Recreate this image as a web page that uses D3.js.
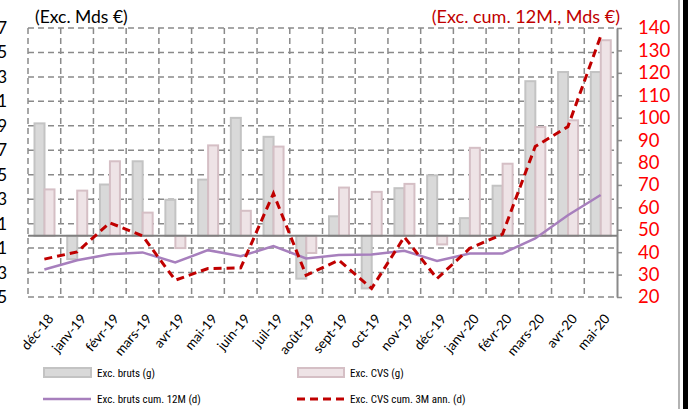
<!DOCTYPE html>
<html>
<head>
<meta charset="utf-8">
<script src="https://cdn.jsdelivr.net/npm/d3@7"></script>
<style>
  body { margin: 0; background: #fff; }
  svg { display: block; font-family: Lato, "Open Sans", sans-serif; }
</style>
</head>
<body>
<div id="chart"></div>
<script>
// data
const months = ["déc-18","janv-19","févr-19","mars-19","avr-19","mai-19","juin-19","juil-19","août-19",
  "sept-19","oct-19","nov-19","déc-19","janv-20","févr-20","mars-20","avr-20","mai-20"];
const brut = [9.2,-1.9,4.2,6.1,2.95,4.6,9.65,8.1,-3.5,1.6,-4.3,3.9,4.95,1.45,4.1,12.65,13.4,13.4];   // Exc. bruts (g)
const cvs = [3.8,3.7,6.1,1.9,-1.0,7.4,2.05,7.3,-1.4,3.95,3.6,4.25,-0.7,7.2,5.9,8.9,9.45,16.0];      // Exc. CVS (g)
const brutCum12 = [32.3,36.4,39.1,39.9,35.4,40.9,38.2,42.7,37.2,38.7,39.0,40.6,36.1,39.4,39.4,46.1,56.5,65.5]; // (d)
const cvsCum3 = [36.9,40.1,53.1,47.3,27.5,32.7,33.0,66.2,29.7,36.4,23.8,46.8,28.2,41.7,48.0,87.1,96.0,136.3];   // (d)
const leftTicks = [-5,-3,-1,1,3,5,7,9,11,13,15,17];
const rightTicks = [20,30,40,50,60,70,80,90,100,110,120,130,140];

const width = 688, height = 409;
const plotLeft = 28, plotRight = 617, plotTop = 28, plotBottom = 297;
const narrow = "'Liberation Sans Narrow', 'Roboto Condensed', Lato, sans-serif";

const svg = d3.select("#chart").append("svg")
  .attr("width", width).attr("height", height);

const x = d3.scaleBand().domain(months).range([plotLeft, plotRight]);
const yL = d3.scaleLinear().domain([-5, 17]).range([plotBottom, plotTop]);
const yR = d3.scaleLinear().domain([20, 140]).range([plotBottom, plotTop]);

const gridColor = "#8a8a8a";

// horizontal dashed grid (left axis)
svg.append("g").selectAll("line").data(leftTicks).join("line")
  .attr("x1", plotLeft).attr("x2", plotRight)
  .attr("y1", d => yL(d)).attr("y2", d => yL(d))
  .attr("stroke", gridColor).attr("stroke-width", 1.5).attr("stroke-dasharray", "6,4");

// vertical dashed grid at category boundaries
svg.append("g").selectAll("line").data(months).join("line")
  .attr("x1", d => x(d)).attr("x2", d => x(d))
  .attr("y1", plotTop).attr("y2", plotBottom)
  .attr("stroke", gridColor).attr("stroke-width", 1.5).attr("stroke-dasharray", "6,4");

// left axis labels (cut by the frame)
svg.append("g").selectAll("text").data(leftTicks).join("text")
  .attr("x", 7).attr("y", d => yL(d) + 6)
  .attr("text-anchor", "end").attr("font-size", 17).attr("fill", "#000")
  .text(d => d);

// right axis
const rAxis = svg.append("g").attr("transform", `translate(${plotRight},0)`)
  .call(d3.axisRight(yR).tickValues(rightTicks).tickSize(5).tickPadding(16).tickSizeOuter(0));
rAxis.select(".domain").attr("stroke", gridColor).attr("stroke-width", 2);
rAxis.selectAll(".tick line").attr("stroke", gridColor).attr("stroke-width", 1.5);
rAxis.selectAll(".tick text").attr("fill", "#ff0000").attr("font-size", 18.5)
  .attr("font-family", "Lato, 'Open Sans', sans-serif");

// bars
const bw = 10;
svg.append("g").selectAll("rect").data(brut).join("rect")
  .attr("x", (d, i) => x(months[i]) + 6.5)
  .attr("y", d => yL(Math.max(0, d)))
  .attr("width", bw)
  .attr("height", d => Math.abs(yL(d) - yL(0)))
  .attr("fill", "#d9d9d9").attr("stroke", "#c3c3c3").attr("stroke-width", 2);

svg.append("g").selectAll("rect").data(cvs).join("rect")
  .attr("x", (d, i) => x(months[i]) + 16.5)
  .attr("y", d => yL(Math.max(0, d)))
  .attr("width", bw)
  .attr("height", d => Math.abs(yL(d) - yL(0)))
  .attr("fill", "#eee3e6").attr("stroke", "#d5bfc5").attr("stroke-width", 2);

// zero line
svg.append("line")
  .attr("x1", plotLeft).attr("x2", plotRight)
  .attr("y1", yL(0)).attr("y2", yL(0))
  .attr("stroke", "#808080").attr("stroke-width", 2);

// lines on right axis
const cx = (d, i) => x(months[i]) + x.bandwidth() / 2;
svg.append("path").datum(brutCum12)
  .attr("fill", "none").attr("stroke", "#a77fbd").attr("stroke-width", 2.5)
  .attr("d", d3.line().x(cx).y(d => yR(d)));

svg.append("path").datum(cvsCum3)
  .attr("fill", "none").attr("stroke", "#c00000").attr("stroke-width", 3)
  .attr("stroke-dasharray", "8,5")
  .attr("d", d3.line().x(cx).y(d => yR(d)));

// x labels
svg.append("g").selectAll("text").data(months).join("text")
  .attr("transform", (d, i) => `translate(${cx(d, i) + 10},${plotBottom + 22}) rotate(-50)`)
  .attr("text-anchor", "end").attr("font-size", 13.5).attr("fill", "#000")
  .text(d => d);

// titles
svg.append("text").attr("x", 35).attr("y", 23).attr("font-size", 17.5).attr("fill", "#000")
  .text("(Exc. Mds €)");
svg.append("text").attr("x", 620).attr("y", 23).attr("text-anchor", "end")
  .attr("font-size", 18).attr("fill", "#c00000")
  .text("(Exc. cum. 12M., Mds €)");

// legend
const legend = svg.append("g").attr("font-size", 11).attr("font-family", narrow).attr("fill", "#000");
legend.append("rect").attr("x", 44).attr("y", 368).attr("width", 47).attr("height", 9)
  .attr("fill", "#d9d9d9").attr("stroke", "#c3c3c3").attr("stroke-width", 2);
legend.append("text").attr("x", 97).attr("y", 377).text("Exc. bruts (g)");
legend.append("rect").attr("x", 298).attr("y", 368).attr("width", 46).attr("height", 9)
  .attr("fill", "#eee3e6").attr("stroke", "#d5bfc5").attr("stroke-width", 2);
legend.append("text").attr("x", 350).attr("y", 377).text("Exc. CVS (g)");
legend.append("line").attr("x1", 43).attr("x2", 91).attr("y1", 399).attr("y2", 399)
  .attr("stroke", "#a77fbd").attr("stroke-width", 2.5);
legend.append("text").attr("x", 97).attr("y", 403).text("Exc. bruts cum. 12M (d)");
legend.append("line").attr("x1", 297).attr("x2", 344).attr("y1", 399).attr("y2", 399)
  .attr("stroke", "#c00000").attr("stroke-width", 3).attr("stroke-dasharray", "8,5");
legend.append("text").attr("x", 350).attr("y", 403).text("Exc. CVS cum. 3M ann. (d)");

// frame on the right edge
svg.append("line").attr("x1", 679).attr("x2", 679).attr("y1", 0).attr("y2", height)
  .attr("stroke", "#9a9a9a").attr("stroke-width", 1.5);
svg.append("rect").attr("x", 683).attr("y", 0).attr("width", 5).attr("height", height).attr("fill", "#000");
</script>
</body>
</html>
